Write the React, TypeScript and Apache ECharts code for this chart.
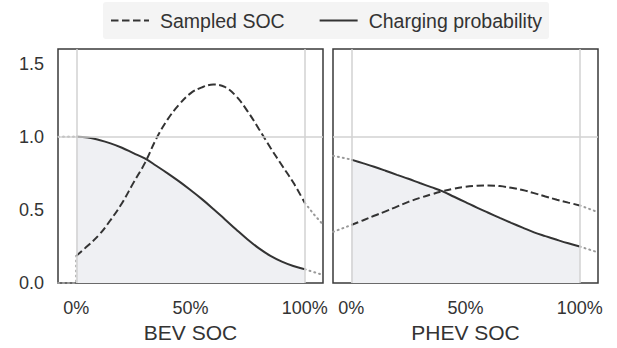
import React, { useEffect, useRef } from "react";
import * as echarts from "echarts";

// State-of-charge grid shared by every curve (fraction of full battery)
const socGrid = [0, 0.05, 0.1, 0.15, 0.2, 0.25, 0.3, 0.35, 0.4, 0.45, 0.5, 0.55, 0.6, 0.65, 0.7, 0.75, 0.8, 0.85, 0.9, 0.95, 1.0];

// BEV panel
const bevChargingProb = [1.0, 0.995, 0.978, 0.955, 0.925, 0.888, 0.852, 0.802, 0.75, 0.695, 0.636, 0.574, 0.507, 0.437, 0.366, 0.298, 0.237, 0.186, 0.147, 0.117, 0.095];
const bevSampledSoc = [0.186, 0.255, 0.33, 0.431, 0.546, 0.685, 0.82, 0.986, 1.119, 1.22, 1.297, 1.338, 1.357, 1.341, 1.277, 1.174, 1.052, 0.925, 0.805, 0.687, 0.549];

// PHEV panel
const phevChargingProb = [0.844, 0.82, 0.795, 0.768, 0.74, 0.713, 0.684, 0.656, 0.627, 0.59, 0.553, 0.516, 0.481, 0.446, 0.412, 0.379, 0.347, 0.321, 0.296, 0.272, 0.25];
const phevSampledSoc = [0.397, 0.428, 0.46, 0.49, 0.523, 0.555, 0.582, 0.606, 0.628, 0.646, 0.659, 0.665, 0.667, 0.663, 0.651, 0.636, 0.615, 0.592, 0.57, 0.55, 0.531];

// Dotted continuations outside the 0–100% range
const bevChargingTailLeft = [[-0.08, 1.0], [0, 1.0]];
const bevChargingTailRight = [[1, 0.095], [1.08, 0.056]];
const bevSampledTailLeft = [[-0.08, 0], [0, 0], [0, 0.186]];
const bevSampledTailRight = [[1, 0.549], [1.04, 0.47], [1.08, 0.4]];
const phevChargingTailLeft = [[-0.08, 0.87], [0, 0.844]];
const phevChargingTailRight = [[1, 0.25], [1.08, 0.21]];
const phevSampledTailLeft = [[-0.08, 0.35], [0, 0.397]];
const phevSampledTailRight = [[1, 0.531], [1.08, 0.485]];

// Axis ticks and reference lines
const xTicks = [0, 0.5, 1];
const yTicks = [0, 0.5, 1, 1.5];
const xRefLines = [0, 1];
const yRefLines = [1];
const panelNames = ["BEV SOC", "PHEV SOC"];

const FONT = "'Liberation Sans', Arial, Helvetica, sans-serif";
const INK = "#333333";
const TAIL = "#9a9a9a";
const FILL = "#eff0f3";
const DASH = [7.5, 3.5];

const zip = (xs: number[], ys: number[]) => xs.map((x, i) => [x, ys[i]]);

export default function App() {
  const ref = useRef<HTMLDivElement>(null);

  useEffect(() => {
    if (!ref.current) return;
    const chart = echarts.init(ref.current, undefined, { renderer: "svg" });

    const panels = [
      {
        charging: bevChargingProb,
        sampled: bevSampledSoc,
        tails: [bevChargingTailLeft, bevChargingTailRight, bevSampledTailLeft, bevSampledTailRight],
      },
      {
        charging: phevChargingProb,
        sampled: phevSampledSoc,
        tails: [phevChargingTailLeft, phevChargingTailRight, phevSampledTailLeft, phevSampledTailRight],
      },
    ];

    const series: any[] = [];
    panels.forEach((p, i) => {
      // reference grid lines
      series.push({
        type: "line",
        xAxisIndex: i,
        yAxisIndex: i,
        data: [],
        z: 1,
        silent: true,
        markLine: {
          silent: true,
          symbol: "none",
          label: { show: false },
          lineStyle: { color: "#d2d2d2", width: 1.5, type: "solid" },
          data: [...xRefLines.map((v) => ({ xAxis: v })), ...yRefLines.map((v) => ({ yAxis: v }))],
        },
      });
      series.push({
        name: "Charging probability",
        type: "line",
        xAxisIndex: i,
        yAxisIndex: i,
        data: zip(socGrid, p.charging),
        smooth: 0.4,
        symbol: "none",
        color: INK,
        lineStyle: { color: INK, width: 2 },
        areaStyle: { color: FILL, opacity: 1 },
        z: 3,
      });
      series.push({
        name: "Sampled SOC",
        type: "line",
        xAxisIndex: i,
        yAxisIndex: i,
        data: zip(socGrid, p.sampled),
        smooth: 0.4,
        symbol: "none",
        color: INK,
        lineStyle: { color: INK, width: 2, type: DASH },
        z: 4,
      });
      p.tails.forEach((t) => {
        series.push({
          type: "line",
          xAxisIndex: i,
          yAxisIndex: i,
          data: t,
          symbol: "none",
          silent: true,
          lineStyle: { color: TAIL, width: 2, type: [1, 4], cap: "round" },
          z: 2,
        });
      });
    });

    const grids = [
      { left: 58, top: 49, width: 265, height: 235 },
      { left: 333, top: 49, width: 265, height: 235 },
    ].map((g) => ({
      ...g,
      show: true,
      borderColor: "#3a3a3a",
      borderWidth: 1.5,
      backgroundColor: "transparent",
    }));

    chart.setOption({
      animation: false,
      textStyle: { fontFamily: FONT },
      legend: {
        left: 103,
        top: 2,
        data: ["Sampled SOC", "Charging probability"],
        itemWidth: 38,
        itemHeight: 14,
        itemGap: 34,
        padding: [8.5, 7],
        backgroundColor: "#f4f4f4",
        borderRadius: 3,
        itemStyle: { opacity: 0 },
        textStyle: { fontSize: 19.5, color: INK, fontFamily: FONT, padding: [0, 0, 0, 6] },
      },
      grid: grids,
      xAxis: panelNames.map((name, i) => ({
        type: "value",
        gridIndex: i,
        min: -0.08,
        max: 1.08,
        name,
        nameLocation: "middle",
        nameGap: 36,
        nameTextStyle: { fontSize: 21, color: INK, fontFamily: FONT },
        axisLine: { show: false },
        axisTick: { show: false },
        splitLine: { show: false },
        axisLabel: {
          customValues: xTicks,
          fontSize: 18,
          color: INK,
          margin: 16,
          formatter: (v: number) => `${Math.round(v * 100)}%`,
        },
      })),
      yAxis: [0, 1].map((i) => ({
        type: "value",
        gridIndex: i,
        min: 0,
        max: 1.6,
        axisLine: { show: false },
        axisTick: { show: false },
        splitLine: { show: false },
        axisLabel: {
          show: i === 0,
          customValues: yTicks,
          fontSize: 18,
          color: INK,
          margin: 14,
          formatter: (v: number) => v.toFixed(1),
        },
      })),
      series,
    });

    return () => chart.dispose();
  }, []);

  return (
    <div
      ref={ref}
      style={{ position: "fixed", left: 0, top: 0, width: 617, height: 348, background: "#ffffff" }}
    />
  );
}
